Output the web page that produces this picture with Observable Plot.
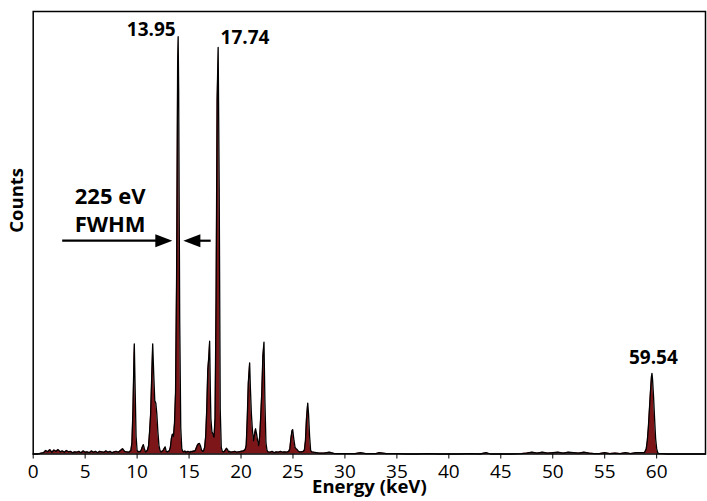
<!DOCTYPE html>
<html><head><meta charset="utf-8">
<script src="https://cdn.jsdelivr.net/npm/d3@7"></script>
<script src="https://cdn.jsdelivr.net/npm/@observablehq/plot@0.6"></script>
<style>body{margin:0;background:#fff}</style>
</head><body><div id="chart"></div>
<script>
// Spectrum: energy (keV) and counts (relative, 0-100)
const energyKeV = [
  0.0,0.2,0.4,0.6,0.8,1.0,1.2,1.4,1.6,1.8,
  2.0,2.2,2.4,2.6,2.8,3.0,3.2,3.4,3.6,3.8,
  4.0,4.2,4.4,4.6,4.8,5.0,5.2,5.4,5.6,5.8,
  6.0,6.2,6.4,6.6,6.8,7.0,7.2,7.4,7.6,7.8,
  8.0,8.2,8.4,8.6,8.8,9.0,9.2,9.4,9.5,9.6,
  9.7,9.73,9.8,9.9,10.0,10.1,10.2,10.3,10.4,10.5,
  10.6,10.7,10.8,10.9,11.0,11.1,11.2,11.3,11.4,11.5,
  11.6,11.7,11.8,11.9,12.0,12.1,12.2,12.3,12.4,12.5,
  12.6,12.7,12.8,12.9,13.0,13.1,13.2,13.3,13.4,13.5,
  13.6,13.7,13.8,13.9,13.95,14.0,14.1,14.2,14.3,14.4,
  14.5,14.6,14.7,14.8,14.9,15.0,15.1,15.2,15.3,15.4,
  15.5,15.6,15.7,15.8,15.9,16.0,16.1,16.2,16.3,16.4,
  16.5,16.6,16.7,16.8,16.9,16.98,17.05,17.1,17.2,17.3,
  17.4,17.5,17.6,17.7,17.8,17.9,18.0,18.1,18.2,18.3,
  18.4,18.5,18.6,18.7,18.8,18.9,19.0,19.2,19.4,19.6,
  19.8,20.0,20.2,20.3,20.4,20.5,20.6,20.7,20.83,20.9,
  21.0,21.1,21.2,21.3,21.4,21.5,21.6,21.7,21.8,21.9,
  22.0,22.1,22.21,22.3,22.4,22.5,22.6,22.8,23.0,23.2,
  23.4,23.6,23.8,24.0,24.2,24.4,24.6,24.7,24.8,24.9,
  24.97,25.1,25.2,25.3,25.4,25.5,25.6,25.8,26.0,26.1,
  26.2,26.3,26.42,26.5,26.6,26.7,26.8,27.0,27.5,28.0,
  28.5,29.0,29.5,30.0,30.5,31.0,31.5,32.0,32.5,33.0,
  33.3,34.0,35.0,36.0,37.0,38.0,39.0,40.0,41.0,42.0,
  43.0,43.6,44.0,45.0,46.0,47.0,47.5,48.0,48.5,49.0,
  49.5,50.0,50.5,51.0,51.5,52.0,52.5,53.0,53.5,54.0,
  54.5,55.0,55.5,56.0,56.5,57.0,57.5,58.0,58.5,58.8,
  58.9,59.0,59.1,59.2,59.3,59.4,59.5,59.55,59.6,59.7,
  59.8,59.9,60.0,60.1,60.2,60.5,61.0,62.0,63.0,64.7
];
const counts = [
  0,0,0,0.1,0.2,0.3,0.8,0.5,1.0,0.4,
  0.9,0.6,1.0,0.5,0.7,0.4,0.8,0.5,0.6,0.3,
  0.5,0.4,0.6,0.3,0.7,0.4,0.5,0.3,0.7,0.4,
  0.6,0.3,0.6,0.5,0.4,0.7,0.4,0.6,0.3,0.5,
  0.6,0.4,0.8,1.2,0.6,0.5,0.4,0.8,2.5,10,
  22,24.9,16,4,0.8,0.5,0.6,0.5,0.9,1.6,
  2.1,1.2,0.5,0.6,0.9,1.8,5,9,17,24.9,
  18,12,11.5,9,5,2,0.8,0.5,0.6,0.8,
  1.2,1.6,0.6,0.5,0.6,0.7,1.5,3.5,4.5,4,
  7,14,40,88,94.3,82,30,6,1.2,0.6,
  0.5,0.7,0.4,0.5,0.6,0.5,0.4,0.6,0.5,0.7,
  0.6,0.8,1.4,2.0,2.3,2.4,1.8,0.9,0.6,0.7,
  1.5,4,10,18.9,22,25.5,14,8,5,4.5,
  3.8,8,35,80,91.9,60,10,1.5,0.6,0.5,
  0.6,0.9,1.3,1.0,0.5,0.6,0.4,0.5,0.6,0.4,
  0.5,0.6,0.7,0.8,1.0,2.0,8,16,20.6,15,
  9,5.3,3.0,4.5,5.7,4.5,3,1.9,4,8.7,
  14,22,25.3,12,2.5,0.8,0.5,0.4,0.6,0.3,
  0.5,0.4,0.6,0.4,0.5,0.4,0.6,1.2,3.5,5.2,
  5.5,3.0,1.5,1.2,1.0,0.7,0.5,0.5,0.6,0.9,
  3,8,11.5,9,4,0.8,0.5,0.4,0.2,0.2,
  0.4,0.1,0.1,0.1,0.1,0.1,0.3,0.1,0.1,0.1,
  0.3,0.1,0.1,0,0,0.1,0,0,0,0.1,
  0,0.3,0,0,0,0.1,0.2,0.4,0.2,0.4,
  0.2,0.3,0.4,0.2,0.4,0.3,0.2,0.4,0.2,0.1,
  0.1,0.3,0.1,0.2,0.1,0.3,0.1,0.3,0.3,0.3,
  0.6,1.2,3,6,10,14,17.5,18.2,17,13,
  8,3.5,1.2,0.3,0.1,0.1,0,0,0,0
];
const xTicks = [0,5,10,15,20,25,30,35,40,45,50,55,60];
const peakLabels = ["13.95","17.74","59.54"];
const peakEnergy = [13.95,17.74,59.54];
const peakCounts = [94.3,91.9,18.2];
const fwhmLines = ["225 eV","FWHM"];
const xLabel = "Energy (keV)";
const yLabel = "Counts";

if (energyKeV.length !== counts.length) throw new Error("length mismatch " + energyKeV.length + " " + counts.length);
const data = energyKeV.map((e, i) => ({energy: e, counts: counts[i]}));
const peaks = peakLabels.map((t, i) => ({text: t, energy: peakEnergy[i], counts: peakCounts[i]}));

const arrowRight = {draw(ctx) { ctx.moveTo(0, 0); ctx.lineTo(-17, -6.5); ctx.lineTo(-17, 6.5); ctx.closePath(); }};
const arrowLeft = {draw(ctx) { ctx.moveTo(0, 0); ctx.lineTo(17, -6.5); ctx.lineTo(17, 6.5); ctx.closePath(); }};
const bold = {fontWeight: "bold", fill: "#000"};

const chart = Plot.plot({
  width: 707, height: 501,
  marginLeft: 32.7, marginRight: 2, marginTop: 11, marginBottom: 47.5,
  style: {fontFamily: "'Open Sans', sans-serif", fontSize: "19px", background: "#fff", color: "#000"},
  x: {domain: [0, 64.7], ticks: xTicks, tickSize: 5, tickPadding: 5, label: null, tickFormat: d => String(d)},
  y: {domain: [0, 100], axis: null},
  marks: [
    Plot.areaY(data, {x: "energy", y: "counts", fill: "#7d1619", curve: "linear"}),
    Plot.lineY(data, {x: "energy", y: "counts", stroke: "#000", strokeWidth: 1.3, curve: "linear"}),
    Plot.frame({stroke: "#000", strokeWidth: 1.5}),
    Plot.text([peaks[0]], {x: "energy", y: "counts", text: "text", textAnchor: "end", lineAnchor: "bottom", dx: -2.5, dy: -1, fontSize: 19, ...bold}),
    Plot.text([peaks[1]], {x: "energy", y: "counts", text: "text", textAnchor: "start", lineAnchor: "bottom", dx: 3, dy: -3, fontSize: 19, ...bold}),
    Plot.text([peaks[2]], {x: "energy", y: "counts", text: "text", textAnchor: "middle", lineAnchor: "bottom", dx: 1.5, dy: -9, fontSize: 19, ...bold}),
    Plot.text([fwhmLines[0]], {x: 7.4, y: 56.5, text: d => d, lineAnchor: "bottom", fontSize: 22, ...bold}),
    Plot.text([fwhmLines[1]], {x: 7.4, y: 50.1, text: d => d, lineAnchor: "bottom", fontSize: 22, ...bold}),
    Plot.link([0], {x1: 2.79, x2: 13.0, y1: 48.2, y2: 48.2, stroke: "#000", strokeWidth: 2.2}),
    Plot.dot([0], {x: 13.39, y: 48.2, symbol: arrowRight, fill: "#000", stroke: "none"}),
    Plot.link([0], {x1: 14.9, x2: 17.08, y1: 48.2, y2: 48.2, stroke: "#000", strokeWidth: 2.2}),
    Plot.dot([0], {x: 14.45, y: 48.2, symbol: arrowLeft, fill: "#000", stroke: "none"}),
    Plot.text([yLabel], {frameAnchor: "left", rotate: -90, dx: -16, text: d => d, fontSize: 18.5, ...bold}),
    Plot.text([xLabel], {frameAnchor: "bottom", lineAnchor: "bottom", dy: 39, text: d => d, fontSize: 18.5, ...bold})
  ]
});
document.getElementById("chart").appendChild(chart);
</script>
</body></html>
